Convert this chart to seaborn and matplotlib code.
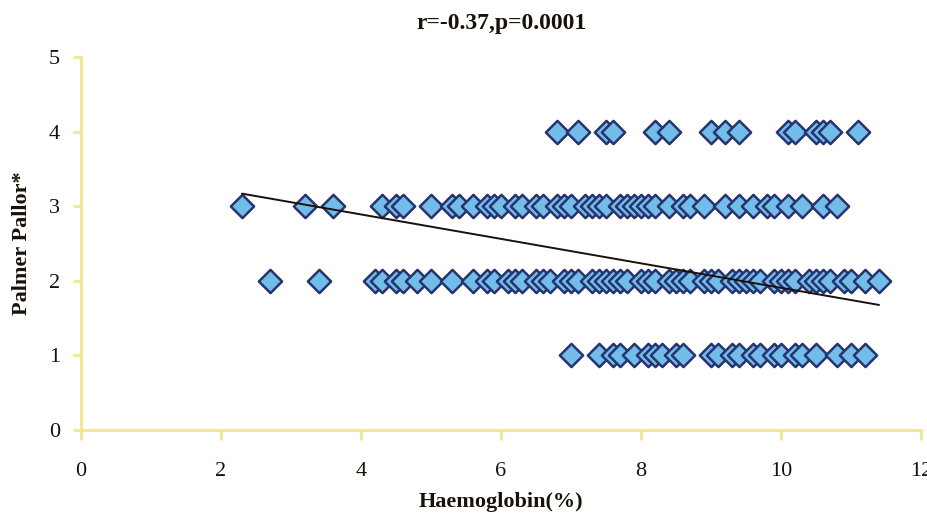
import numpy as np
import pandas as pd
import matplotlib
matplotlib.use("Agg")
import matplotlib.pyplot as plt
import seaborn as sns

# ---- data ----
hb_pallor4 = [6.8, 7.1, 7.5, 7.6, 8.2, 8.4, 9.0, 9.2, 9.4, 10.1, 10.2, 10.5, 10.6, 10.7, 11.1]
hb_pallor3 = [2.3, 3.2, 3.6, 4.3, 4.5, 4.6, 5.0, 5.3, 5.4, 5.6, 5.8, 5.9, 6.0, 6.2, 6.3,
              6.5, 6.6, 6.8, 6.9, 7.0, 7.2, 7.3, 7.4, 7.5, 7.7, 7.8, 7.9, 8.0, 8.1, 8.2,
              8.4, 8.6, 8.7, 8.9, 9.2, 9.4, 9.6, 9.8, 9.9, 10.1, 10.3, 10.6, 10.8]
hb_pallor2 = [2.7, 3.4, 4.2, 4.3, 4.5, 4.6, 4.8, 5.0, 5.3, 5.6, 5.8, 5.9, 6.1, 6.2, 6.3,
              6.5, 6.6, 6.7, 6.9, 7.0, 7.1, 7.3, 7.4, 7.5, 7.6, 7.7, 7.8, 8.0, 8.1, 8.2,
              8.4, 8.5, 8.6, 8.7, 8.9, 9.0, 9.1, 9.3, 9.4, 9.5, 9.6, 9.7, 9.9, 10.0, 10.1,
              10.2, 10.4, 10.5, 10.6, 10.7, 10.9, 11.0, 11.2, 11.4]
hb_pallor1 = [7.0, 7.4, 7.6, 7.7, 7.9, 8.1, 8.2, 8.3, 8.5, 8.6, 9.0, 9.1, 9.3, 9.4, 9.6,
              9.7, 9.9, 10.0, 10.2, 10.3, 10.5, 10.8, 11.0, 11.2]
pallor_levels = [4, 3, 2, 1]

trend_slope = -0.164
trend_intercept = 3.547

title_text = "r=-0.37,p=0.0001"
x_label = "Haemoglobin(%)"
y_label = "Palmer Pallor*"
x_ticks = [0, 2, 4, 6, 8, 10, 12]
y_ticks = [0, 1, 2, 3, 4, 5]

# ---- build table ----
rows = []
for lvl, vals in zip(pallor_levels, [hb_pallor4, hb_pallor3, hb_pallor2, hb_pallor1]):
    for v in vals:
        rows.append({"hb": v, "pallor": lvl})
df = pd.DataFrame(rows)

sns.set_style("white")
plt.rcParams["font.family"] = ["Liberation Serif", "DejaVu Serif"]

fig = plt.figure(figsize=(9.28, 5.15), dpi=100)
ax = fig.add_axes([0.0873, 0.165, 0.9052, 0.724])

sns.scatterplot(data=df, x="hb", y="pallor", marker="D", s=140,
                color="#72BCEA", edgecolor="#27336F", linewidth=1.8, ax=ax,
                zorder=3, legend=False)

x_all = df["hb"].to_numpy()
xl = np.array([x_all.min(), x_all.max()])
ax.plot(xl, trend_intercept + trend_slope * xl, color="#1a1008", lw=1.4, zorder=4)

ax.set_xlim(0, 12)
ax.set_ylim(0, 5)
ax.set_xticks(x_ticks)
ax.set_yticks(y_ticks)
ax.set_xticklabels([str(t) for t in x_ticks], fontsize=16)
ax.set_yticklabels([str(t) for t in y_ticks], fontsize=16)

axis_col = "#F2E68C"
for side in ["top", "right"]:
    ax.spines[side].set_visible(False)
for side in ["left", "bottom"]:
    ax.spines[side].set_color(axis_col)
    ax.spines[side].set_linewidth(2)
ax.tick_params(axis="x", direction="out", length=7, width=2, color=axis_col,
               pad=16, labelcolor="#1a1208")
ax.tick_params(axis="y", direction="out", length=6, width=2, color=axis_col,
               pad=9, labelcolor="#1a1208")
ax.tick_params(bottom=True, left=True)

ax.set_xlabel(x_label, fontsize=16, fontweight="bold", color="#1a1208", labelpad=8)
ax.set_ylabel(y_label, fontsize=16, fontweight="bold", color="#1a1208", labelpad=12)
fig.text(0.54, 0.955, title_text, ha="center", va="center", fontsize=17,
         fontweight="bold", color="#1a1208")

for lab in ax.get_xticklabels():
    lab.set_clip_on(False)

fig.savefig("out.png", dpi=100)
